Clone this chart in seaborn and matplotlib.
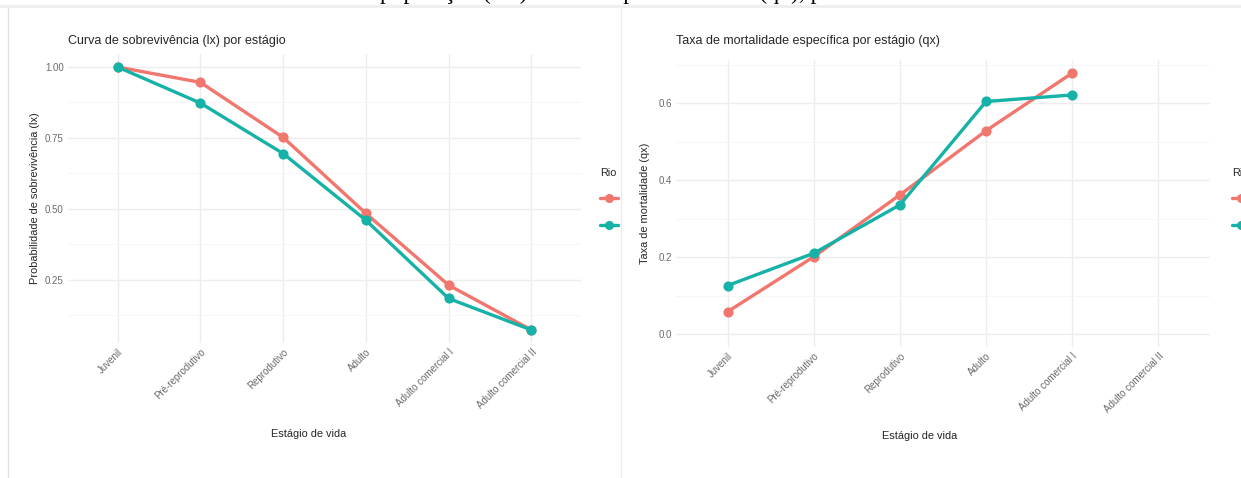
import numpy as np
import pandas as pd
import matplotlib
matplotlib.use("Agg")
import matplotlib.pyplot as plt
import seaborn as sns
from matplotlib.patches import Rectangle
from matplotlib.lines import Line2D
from matplotlib.ticker import MultipleLocator, FormatStrFormatter

# Estágios de vida e séries por rio
estagios = ["Juvenil", "Pré-reprodutivo", "Reprodutivo", "Adulto",
            "Adulto comercial I", "Adulto comercial II"]
rios = ["A", "B"]
lx_a = [1.00, 0.946, 0.752, 0.484, 0.231, 0.073]
lx_b = [1.00, 0.873, 0.695, 0.460, 0.184, 0.073]
qx_a = [0.058, 0.201, 0.362, 0.529, 0.679, np.nan]
qx_b = [0.126, 0.210, 0.336, 0.605, 0.622, np.nan]
cores = ["#F0766E", "#16B1A7"]

df = pd.DataFrame({
    "Estagio": estagios * 2,
    "Rio": [rios[0]] * len(estagios) + [rios[1]] * len(estagios),
    "lx": lx_a + lx_b,
    "qx": qx_a + qx_b,
})

sns.set_theme(style="white")
plt.rcParams["font.family"] = ["Liberation Sans", "DejaVu Sans"]

W, H = 1241, 478
fig = plt.figure(figsize=(W / 100, H / 100), dpi=100)
fig.patch.set_facecolor("white")


def box(x0, x1, y0, y1):
    """Axes rectangle from pixel edges measured from the top-left corner."""
    return [x0 / W, 1 - y1 / H, (x1 - x0) / W, (y1 - y0) / H]


def painel(ax, col, ylim, major, minor, fmt, titulo, ylabel,
           xlab_pos, ylab_x, leg_xy, title_pad):
    sns.pointplot(data=df, x="Estagio", y=col, hue="Rio", order=estagios,
                  hue_order=rios, palette=cores, markers="o", linestyles="-",
                  errorbar=None, ax=ax, markersize=5.5, linewidth=2.4)
    ax.set_xlim(-0.6, len(estagios) - 0.4)
    ax.set_ylim(*ylim)
    ax.set_facecolor("white")
    for s in ax.spines.values():
        s.set_visible(False)
    ax.yaxis.set_major_locator(MultipleLocator(major))
    ax.yaxis.set_minor_locator(MultipleLocator(minor))
    ax.yaxis.set_major_formatter(FormatStrFormatter(fmt))
    ax.grid(which="major", axis="both", color="#EDEDED", lw=1.0)
    ax.grid(which="minor", axis="y", color="#F6F6F6", lw=0.7)
    ax.set_axisbelow(True)
    ax.tick_params(axis="both", which="both", length=0, colors="#6A6A6A",
                   labelsize=7.0, pad=3)
    for t in ax.get_xticklabels():
        t.set_rotation(45)
        t.set_ha("right")
        t.set_rotation_mode("anchor")
    ax.set_title(titulo, loc="left", fontsize=9.0, color="#262626", pad=title_pad)
    ax.set_xlabel("Estágio de vida", fontsize=7.9, color="#262626")
    ax.set_ylabel(ylabel, fontsize=7.9, color="#262626")
    bb = ax.get_position()
    x0, y0 = bb.x0 * W, (1 - bb.y1) * H
    w, h = bb.width * W, bb.height * H
    ax.xaxis.set_label_coords((xlab_pos[0] - x0) / w, -(xlab_pos[1] - y0 - h) / h)
    ax.yaxis.set_label_coords((ylab_x - x0) / w, 0.5)
    ax.xaxis.label.set_va("center")
    ax.yaxis.label.set_va("center")
    if ax.get_legend() is not None:
        ax.get_legend().remove()
    handles = [Line2D([], [], color=c, marker="o", lw=2.4, ms=5.5) for c in cores]
    leg = ax.legend(handles, rios, title="Rio", loc="upper left",
                    bbox_to_anchor=(leg_xy[0] / W, 1 - leg_xy[1] / H),
                    bbox_transform=fig.transFigure, frameon=False,
                    handlelength=1.7, handletextpad=0.6, borderaxespad=0,
                    borderpad=0, labelspacing=1.55, fontsize=7.5,
                    title_fontsize=7.8, alignment="left")
    leg.get_title().set_color("#262626")


ax1 = fig.add_axes(box(68, 581, 54, 343), zorder=0)
painel(ax1, "lx", (0.027, 1.046), 0.25, 0.125, "%.2f",
       "Curva de sobrevivência (lx) por estágio",
       "Probabilidade de sobrevivência (lx)",
       (309, 434), 35, (600, 168), 7)

# fundo do segundo quadro, cobre o que sobra da legenda à esquerda
fig.add_artist(Rectangle((621 / W, 0), (W - 621) / W, 1 - 7 / H,
                         transform=fig.transFigure, facecolor="white",
                         edgecolor="none", zorder=1))

ax2 = fig.add_axes(box(676, 1210, 60, 347), zorder=2)
painel(ax2, "qx", (-0.034, 0.713), 0.2, 0.1, "%.1f",
       "Taxa de mortalidade específica por estágio (qx)",
       "Taxa de mortalidade (qx)",
       (920, 436), 645, (1232, 168), 11.5)

# linha do texto da página, cortada no topo
fig.text(380 / W, 1 + 1.5 / H,
         "população (Nx) e taxa de probabilidade (qx), por",
         family=["Liberation Serif", "DejaVu Serif"], fontsize=17,
         color="black", va="baseline", ha="left", zorder=4)

# moldura da página: faixa superior, borda esquerda e divisória
fig.add_artist(Rectangle((0, 1 - 7.5 / H), 1, 2.5 / H, transform=fig.transFigure,
                         facecolor="#EFEFEF", edgecolor="none", zorder=5))
fig.add_artist(Line2D([8 / W, 8 / W], [0, 1 - 7 / H], transform=fig.transFigure,
                      color="#E2E2E2", lw=1.0, zorder=3))
fig.add_artist(Line2D([621 / W, 621 / W], [0, 1 - 7 / H], transform=fig.transFigure,
                      color="#ECECEC", lw=1.0, zorder=3))

fig.savefig("out.png", dpi=100, facecolor="white")
